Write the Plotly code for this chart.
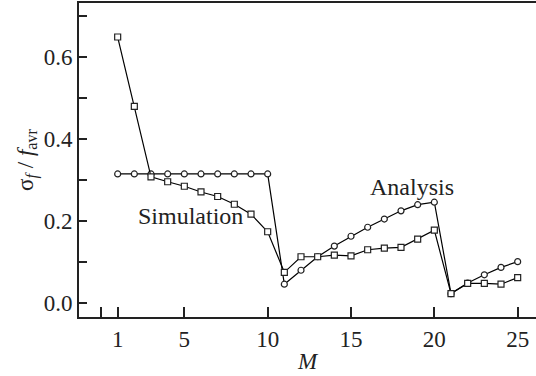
import plotly.graph_objects as go

M = list(range(1, 26))
simulation = [0.648, 0.479, 0.307, 0.295, 0.284, 0.270, 0.259, 0.240, 0.216, 0.173,
              0.074, 0.112, 0.112, 0.116, 0.114, 0.129, 0.133, 0.135, 0.155, 0.177,
              0.022, 0.047, 0.047, 0.045, 0.061]
analysis = [0.314, 0.314, 0.314, 0.314, 0.314, 0.314, 0.314, 0.314, 0.314, 0.314,
            0.045, 0.079, 0.112, 0.138, 0.162, 0.184, 0.204, 0.224, 0.239, 0.245,
            0.022, 0.048, 0.068, 0.086, 0.100]
x_tickvals = [1, 5, 10, 15, 20, 25]
x_ticktext = ["1", "5", "10", "15", "20", "25"]
x_minor_tickvals = [0]
y_tickvals = [0, 0.2, 0.4, 0.6]
y_ticktext = ["0.0", "0.2", "0.4", "0.6"]
y_minor_tickvals = [0.1, 0.3, 0.5, 0.7]

FONT = "Liberation Serif, Times New Roman, serif"

fig = go.Figure()
fig.add_trace(go.Scatter(
    x=M, y=analysis, mode="lines+markers", name="Analysis",
    line=dict(color="black", width=1.2),
    marker=dict(symbol="circle", size=6, color="white", line=dict(color="#222", width=1.2)),
))
fig.add_trace(go.Scatter(
    x=M, y=simulation, mode="lines+markers", name="Simulation",
    line=dict(color="black", width=1.2),
    marker=dict(symbol="square", size=6, color="white", line=dict(color="#222", width=1.2)),
))

fig.add_annotation(x=18.66, y=0.282, text="Analysis", showarrow=False,
                   font=dict(family=FONT, size=24, color="#222"))
fig.add_annotation(x=5.34, y=0.211, text="Simulation", showarrow=False,
                   font=dict(family=FONT, size=24, color="#222"))

fig.update_layout(
    width=536, height=376,
    margin=dict(l=79, r=0, t=3, b=59),
    paper_bgcolor="white", plot_bgcolor="white",
    showlegend=False,
    font=dict(family=FONT, size=23, color="#222"),
    xaxis=dict(
        range=[-1.32, 26.1], tickmode="array", tickvals=x_tickvals, ticktext=x_ticktext,
        ticks="inside", ticklen=10, tickwidth=1.5, tickcolor="#222",
        minor=dict(tickmode="array", tickvals=x_minor_tickvals, ticks="inside",
                   ticklen=10, tickwidth=1.5, tickcolor="#222", showgrid=False),
        showline=True, linecolor="#222", linewidth=2, mirror=True,
        showgrid=False, zeroline=False,
        title=dict(text="<i>M</i>", standoff=2, font=dict(size=23)),
    ),
    yaxis=dict(
        range=[-0.035, 0.731], tickmode="array", tickvals=y_tickvals, ticktext=y_ticktext,
        ticks="inside", ticklen=8, tickwidth=1.5, tickcolor="#222",
        minor=dict(tickmode="array", tickvals=y_minor_tickvals, ticks="inside",
                   ticklen=8, tickwidth=1.5, tickcolor="#222", showgrid=False),
        showline=True, linecolor="#222", linewidth=2,
        showgrid=False, zeroline=False,
        title=dict(text="σ<sub><i>f</i></sub> / <i>f</i><sub>avr</sub>", standoff=4, font=dict(size=23)),
    ),
)

fig.write_html("out.html")
